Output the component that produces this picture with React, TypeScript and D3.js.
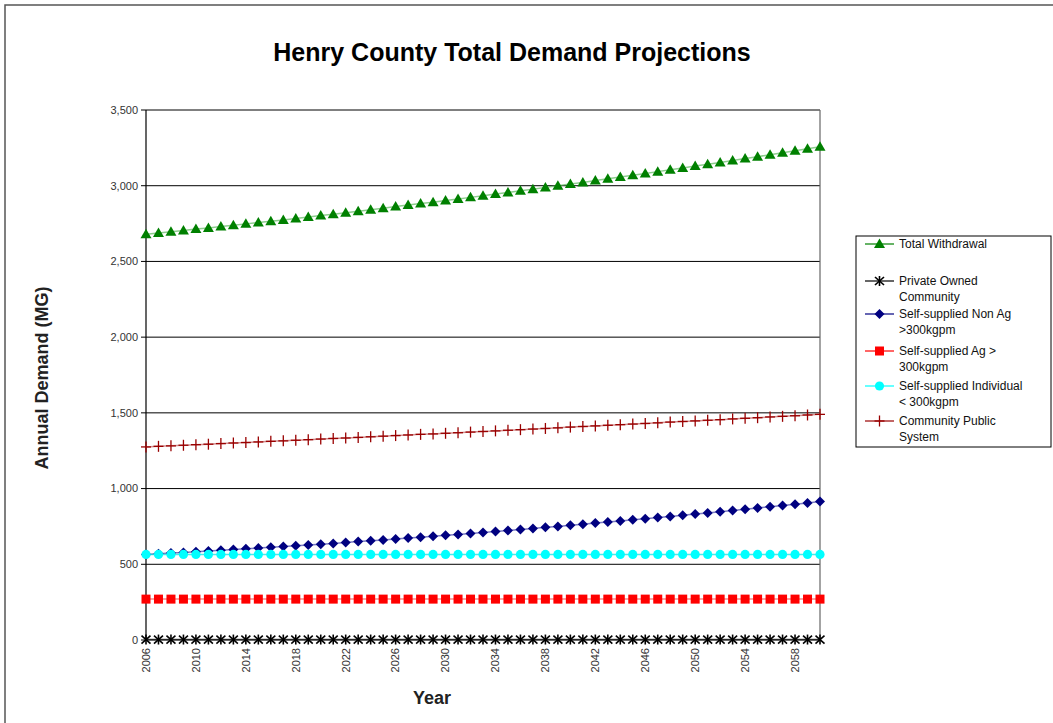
import React from "react";
import * as d3 from "d3";

const years: number[] = [
  2006, 2007, 2008, 2009, 2010, 2011, 2012, 2013, 2014, 2015, 2016, 2017, 2018, 2019,
  2020, 2021, 2022, 2023, 2024, 2025, 2026, 2027, 2028, 2029, 2030, 2031, 2032, 2033,
  2034, 2035, 2036, 2037, 2038, 2039, 2040, 2041, 2042, 2043, 2044, 2045, 2046, 2047,
  2048, 2049, 2050, 2051, 2052, 2053, 2054, 2055, 2056, 2057, 2058, 2059, 2060,
];

const xTickLabels: number[] = [2006, 2010, 2014, 2018, 2022, 2026, 2030, 2034, 2038, 2042, 2046, 2050, 2054, 2058];
const yTicks: number[] = [0, 500, 1000, 1500, 2000, 2500, 3000, 3500];

const totalWithdrawal: number[] = [
  2680, 2688, 2696, 2704, 2714, 2721, 2730, 2739, 2748, 2757, 2766, 2774, 2784, 2794,
  2803, 2812, 2822, 2832, 2841, 2851, 2862, 2872, 2882, 2891, 2902, 2912, 2923, 2933,
  2945, 2955, 2966, 2977, 2989, 2999, 3011, 3022, 3035, 3046, 3057, 3069, 3081, 3093,
  3105, 3117, 3130, 3141, 3153, 3166, 3180, 3192, 3205, 3217, 3231, 3244, 3257,
];
const privateOwned: number[] = [
  3, 3, 3, 3, 3, 3, 3, 3, 3, 3, 3, 3, 3, 3, 3, 3, 3, 3, 3, 3, 3, 3, 3, 3, 3, 3, 3, 3,
  3, 3, 3, 3, 3, 3, 3, 3, 3, 3, 3, 3, 3, 3, 3, 3, 3, 3, 3, 3, 3, 3, 3, 3, 3, 3, 3,
];
const selfNonAg: number[] = [
  565, 569, 574, 578, 583, 587, 592, 597, 602, 607, 612, 617, 622, 628,
  633, 638, 644, 650, 655, 661, 667, 673, 679, 685, 691, 697, 704, 710,
  717, 723, 730, 737, 744, 750, 757, 764, 772, 779, 786, 794, 801, 809,
  816, 824, 832, 839, 847, 855, 864, 872, 880, 888, 897, 905, 914,
];
const selfAg: number[] = [
  270, 270, 270, 270, 270, 270, 270, 270, 270, 270, 270, 270, 270, 270, 270, 270, 270, 270, 270, 270, 270, 270, 270, 270, 270, 270, 270, 270,
  270, 270, 270, 270, 270, 270, 270, 270, 270, 270, 270, 270, 270, 270, 270, 270, 270, 270, 270, 270, 270, 270, 270, 270, 270, 270, 270,
];
const selfIndividual: number[] = [
  565, 565, 565, 565, 565, 565, 565, 565, 565, 565, 565, 565, 565, 565, 565, 565, 565, 565, 565, 565, 565, 565, 565, 565, 565, 565, 565, 565,
  565, 565, 565, 565, 565, 565, 565, 565, 565, 565, 565, 565, 565, 565, 565, 565, 565, 565, 565, 565, 565, 565, 565, 565, 565, 565, 565,
];
const communityPublic: number[] = [
  1275, 1279, 1282, 1286, 1290, 1293, 1297, 1301, 1304, 1308, 1312, 1315, 1319, 1323,
  1327, 1331, 1334, 1338, 1342, 1346, 1350, 1354, 1358, 1361, 1365, 1369, 1373, 1377,
  1381, 1385, 1389, 1393, 1397, 1401, 1406, 1410, 1414, 1418, 1422, 1426, 1430, 1434,
  1439, 1443, 1447, 1451, 1455, 1460, 1464, 1468, 1473, 1477, 1481, 1486, 1490,
];

type Marker = "triangle" | "asterisk" | "diamond" | "square" | "circle" | "plus";
interface Series { name: string[]; values: number[]; color: string; line: string; marker: Marker; }

const seriesList: Series[] = [
  { name: ["Total Withdrawal"], values: totalWithdrawal, color: "#008000", line: "#5cb85c", marker: "triangle" },
  { name: ["Private Owned", "Community"], values: privateOwned, color: "#000000", line: "#000000", marker: "asterisk" },
  { name: ["Self-supplied Non Ag", ">300kgpm"], values: selfNonAg, color: "#000080", line: "#4040a8", marker: "diamond" },
  { name: ["Self-supplied Ag >", "300kgpm"], values: selfAg, color: "#ff0000", line: "#ff5050", marker: "square" },
  { name: ["Self-supplied Individual", "< 300kgpm"], values: selfIndividual, color: "#00ffff", line: "#00e0e0", marker: "circle" },
  { name: ["Community Public", "System"], values: communityPublic, color: "#990000", line: "#c06060", marker: "plus" },
];

function MarkerShape({ type, x, y, color }: { type: Marker; x: number; y: number; color: string }) {
  switch (type) {
    case "triangle":
      return <path d={`M${x},${y - 5.5} L${x + 5.5},${y + 4} L${x - 5.5},${y + 4} Z`} fill={color} />;
    case "asterisk":
      return (
        <g stroke={color} strokeWidth={1.6}>
          <line x1={x} y1={y - 5} x2={x} y2={y + 5} />
          <line x1={x - 4.5} y1={y - 4} x2={x + 4.5} y2={y + 4} />
          <line x1={x - 4.5} y1={y + 4} x2={x + 4.5} y2={y - 4} />
        </g>
      );
    case "diamond":
      return <path d={`M${x},${y - 5} L${x + 5},${y} L${x},${y + 5} L${x - 5},${y} Z`} fill={color} />;
    case "square":
      return <rect x={x - 4.5} y={y - 4.5} width={9} height={9} fill={color} />;
    case "circle":
      return <circle cx={x} cy={y} r={4.6} fill={color} />;
    case "plus":
      return (
        <g stroke={color} strokeWidth={1.3}>
          <line x1={x} y1={y - 5.5} x2={x} y2={y + 5.5} />
          <line x1={x - 5} y1={y} x2={x + 5} y2={y} />
        </g>
      );
  }
  return null;
}

export default function App() {
  const W = 1053, H = 723;
  const left = 146, right = 820, top = 110, bottom = 640;
  const x = d3.scaleLinear().domain([2006, 2060]).range([left, right]);
  const y = d3.scaleLinear().domain([0, 3500]).range([bottom, top]);
  const fmt = d3.format(",");

  const legendEntries = [244, 281, 314, 351, 386, 421];

  return (
    <svg width={W} height={H} style={{ position: "absolute", left: 0, top: 0, background: "#fff" }}
      fontFamily="'Liberation Sans', Arial, sans-serif">
      <rect x={5} y={5} width={1070} height={740} fill="#fff" stroke="#555" strokeWidth={1.5} />
      <text x={512} y={61} textAnchor="middle" fontSize={25} fontWeight="bold" fill="#000">
        Henry County Total Demand Projections
      </text>

      {/* gridlines */}
      {yTicks.map((t) => (
        <line key={t} x1={left} x2={right} y1={y(t)} y2={y(t)} stroke="#000" strokeWidth={1} />
      ))}
      <line x1={right} x2={right} y1={top} y2={bottom} stroke="#666" strokeWidth={1.2} />
      <line x1={left} x2={left} y1={top} y2={bottom} stroke="#000" strokeWidth={1.2} />
      {yTicks.map((t) => (
        <g key={"yt" + t}>
          <line x1={left - 5} x2={left} y1={y(t)} y2={y(t)} stroke="#000" />
          <text x={left - 8} y={y(t)} dy="0.35em" textAnchor="end" fontSize={11} fill="#333">{fmt(t)}</text>
        </g>
      ))}
      {xTickLabels.map((t) => (
        <text key={"xl" + t} transform={`translate(${x(t)},${bottom + 8}) rotate(-90)`} dy="0.35em"
          textAnchor="end" fontSize={11} fill="#333">{t}</text>
      ))}

      {/* series */}
      {seriesList.map((s, i) => {
        const line = d3.line<number>().x((_, j) => x(years[j])).y((v) => y(v));
        return (
          <g key={i}>
            <path d={line(s.values) || ""} fill="none" stroke={s.line} strokeWidth={1.5} opacity={0.7} />
            {s.values.map((v, j) => (
              <MarkerShape key={j} type={s.marker} x={x(years[j])} y={y(v)} color={s.color} />
            ))}
          </g>
        );
      })}

      <text transform={`translate(48,378) rotate(-90)`} textAnchor="middle" fontSize={18} fontWeight="bold" fill="#222">
        Annual Demand (MG)
      </text>
      <text x={432} y={704} textAnchor="middle" fontSize={18} fontWeight="bold" fill="#222">Year</text>

      {/* legend */}
      <rect x={856} y={236} width={195} height={211} fill="#fff" stroke="#000" strokeWidth={1} />
      {seriesList.map((s, i) => {
        const ly = legendEntries[i];
        return (
          <g key={"lg" + i}>
            <line x1={865} x2={894} y1={ly} y2={ly} stroke={s.color} strokeWidth={1.2} />
            <MarkerShape type={s.marker} x={879.5} y={ly} color={s.color} />
            {s.name.map((n, k) => (
              <text key={k} x={899} y={ly + k * 16} dy="0.35em" fontSize={12} fill="#111">{n}</text>
            ))}
          </g>
        );
      })}
    </svg>
  );
}
